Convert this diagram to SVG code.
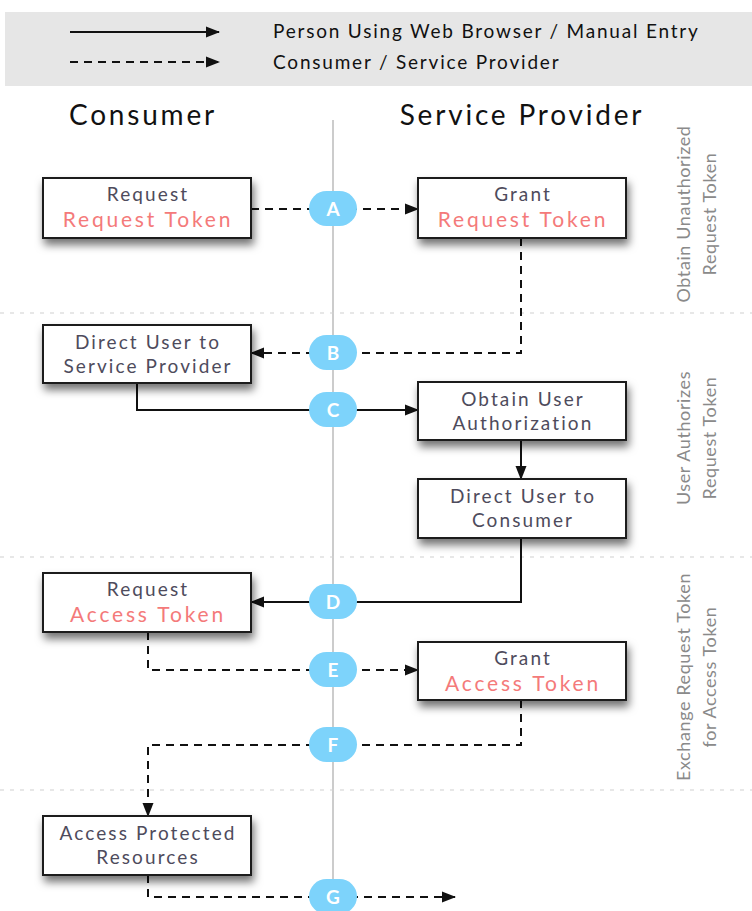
<svg xmlns="http://www.w3.org/2000/svg" width="752" height="911" viewBox="0 0 752 911">
  <style>
    .txt { font-family: Lato, "Open Sans", sans-serif; }
    .head { font-size: 28px; fill: #111; text-anchor: middle; letter-spacing: 2.8px; }
    .legend { font-size: 19px; fill: #111; letter-spacing: 1.8px; }
    .box { fill: #fff; stroke: #1a1a1a; stroke-width: 2; }
    .lbl { font-size: 19px; fill: #4e4b5c; text-anchor: middle; letter-spacing: 2.1px; }
    .red { font-size: 21px; fill: #f47a7a; text-anchor: middle; letter-spacing: 2.8px; }
    .side { font-family: Lato, "Open Sans", sans-serif; font-size: 18px; fill: #8a8a8a; text-anchor: middle; letter-spacing: 0.6px; }
    .sep { stroke: #cfcfcf; stroke-width: 1.2; stroke-dasharray: 4 6; }
    .solid { fill: none; stroke: #111; stroke-width: 2; }
    .dash { fill: none; stroke: #111; stroke-width: 2; stroke-dasharray: 8 6; }
    .pill { fill: #7dd3fb; }
    .letter { font-family: Lato, sans-serif; font-size: 19px; font-weight: bold; fill: #fff; text-anchor: middle; }
  </style>
  <defs>
    <marker id="arr" viewBox="0 0 14 12" refX="13" refY="6" markerWidth="14" markerHeight="12" markerUnits="userSpaceOnUse" orient="auto">
      <path d="M0,0.5 L14,6 L0,11.5 Z" fill="#111"/>
    </marker>
    <filter id="shadow" x="-20%" y="-30%" width="140%" height="180%">
      <feDropShadow dx="2" dy="6" stdDeviation="4.5" flood-color="#000" flood-opacity="0.55"/>
    </filter>
  </defs>

  <rect width="752" height="911" fill="#fff"/>

  <!-- legend -->
  <g id="legend">
    <rect x="5" y="12" width="747" height="74" fill="#e6e6e6"/>
    <line x1="70" y1="32" x2="219" y2="32" class="solid" marker-end="url(#arr)"/>
    <line x1="70" y1="62" x2="219" y2="62" class="dash" marker-end="url(#arr)"/>
    <text x="273" y="38" class="txt legend">Person Using Web Browser / Manual Entry</text>
    <text x="273" y="69" class="txt legend">Consumer / Service Provider</text>
  </g>

  <!-- column headers -->
  <text x="143" y="125" class="txt head">Consumer</text>
  <text x="522" y="125" class="txt head">Service Provider</text>

  <!-- centre line and phase separators -->
  <line x1="333" y1="120" x2="333" y2="911" stroke="#cccccc" stroke-width="2"/>
  <line x1="0" y1="313" x2="752" y2="313" class="sep"/>
  <line x1="0" y1="557" x2="752" y2="557" class="sep"/>
  <line x1="0" y1="790" x2="752" y2="790" class="sep"/>

  <!-- phase labels -->
  <g id="phase-labels" class="side">
    <text transform="translate(693,214) rotate(-90)"><tspan x="0" y="-3">Obtain Unauthorized</tspan><tspan x="0" y="23">Request Token</tspan></text>
    <text transform="translate(693,438) rotate(-90)"><tspan x="0" y="-3">User Authorizes</tspan><tspan x="0" y="23">Request Token</tspan></text>
    <text transform="translate(693,677) rotate(-90)"><tspan x="0" y="-3">Exchange Request Token</tspan><tspan x="0" y="23">for Access Token</tspan></text>
  </g>

  <!-- connectors -->
  <g id="connectors">
    <path d="M251,209 H418" class="dash" marker-end="url(#arr)"/>
    <path d="M521,238 V353 H251" class="dash" marker-end="url(#arr)"/>
    <path d="M137,383 V410 H418" class="solid" marker-end="url(#arr)"/>
    <path d="M521,440 V479" class="solid" marker-end="url(#arr)"/>
    <path d="M521,538 V602 H251" class="solid" marker-end="url(#arr)"/>
    <path d="M148,632 V670 H418" class="dash" marker-end="url(#arr)"/>
    <path d="M521,700 V745 H148 V816" class="dash" marker-end="url(#arr)"/>
    <path d="M148,875 V897 H455" class="dash" marker-end="url(#arr)"/>
  </g>

  <!-- step badges -->
  <g id="badges">
    <g id="step-a"><rect x="309" y="191" width="48" height="35" rx="17.5" class="pill"/><text x="333" y="215.5" class="letter">A</text></g>
    <g id="step-b"><rect x="309" y="335" width="48" height="35" rx="17.5" class="pill"/><text x="333" y="359.5" class="letter">B</text></g>
    <g id="step-c"><rect x="309" y="392" width="48" height="35" rx="17.5" class="pill"/><text x="333" y="416.5" class="letter">C</text></g>
    <g id="step-d"><rect x="309" y="584" width="48" height="35" rx="17.5" class="pill"/><text x="333" y="608.5" class="letter">D</text></g>
    <g id="step-e"><rect x="309" y="652" width="48" height="35" rx="17.5" class="pill"/><text x="333" y="676.5" class="letter">E</text></g>
    <g id="step-f"><rect x="309" y="727" width="48" height="35" rx="17.5" class="pill"/><text x="333" y="751.5" class="letter">F</text></g>
    <g id="step-g"><rect x="309" y="879" width="48" height="35" rx="17.5" class="pill"/><text x="333" y="903.5" class="letter">G</text></g>
  </g>

  <!-- nodes -->
  <g id="request-request-token">
    <rect x="43" y="178" width="208" height="60" class="box" filter="url(#shadow)"/>
    <text x="148" y="201" class="txt lbl">Request</text>
    <text x="148" y="227" class="txt red">Request Token</text>
  </g>
  <g id="grant-request-token">
    <rect x="418" y="178" width="208" height="60" class="box" filter="url(#shadow)"/>
    <text x="523" y="201" class="txt lbl">Grant</text>
    <text x="523" y="227" class="txt red">Request Token</text>
  </g>
  <g id="direct-to-provider">
    <rect x="43" y="325" width="208" height="58" class="box" filter="url(#shadow)"/>
    <text x="148" y="349" class="txt lbl">Direct User to</text>
    <text x="148" y="373" class="txt lbl">Service Provider</text>
  </g>
  <g id="obtain-authorization">
    <rect x="418" y="382" width="208" height="58" class="box" filter="url(#shadow)"/>
    <text x="523" y="406" class="txt lbl">Obtain User</text>
    <text x="523" y="430" class="txt lbl">Authorization</text>
  </g>
  <g id="direct-to-consumer">
    <rect x="418" y="479" width="208" height="59" class="box" filter="url(#shadow)"/>
    <text x="523" y="503" class="txt lbl">Direct User to</text>
    <text x="523" y="527" class="txt lbl">Consumer</text>
  </g>
  <g id="request-access-token">
    <rect x="43" y="573" width="208" height="59" class="box" filter="url(#shadow)"/>
    <text x="148" y="596" class="txt lbl">Request</text>
    <text x="148" y="622" class="txt red">Access Token</text>
  </g>
  <g id="grant-access-token">
    <rect x="418" y="642" width="208" height="58" class="box" filter="url(#shadow)"/>
    <text x="523" y="665" class="txt lbl">Grant</text>
    <text x="523" y="691" class="txt red">Access Token</text>
  </g>
  <g id="access-resources">
    <rect x="43" y="816" width="208" height="59" class="box" filter="url(#shadow)"/>
    <text x="148" y="840" class="txt lbl">Access Protected</text>
    <text x="148" y="864" class="txt lbl">Resources</text>
  </g>
</svg>
